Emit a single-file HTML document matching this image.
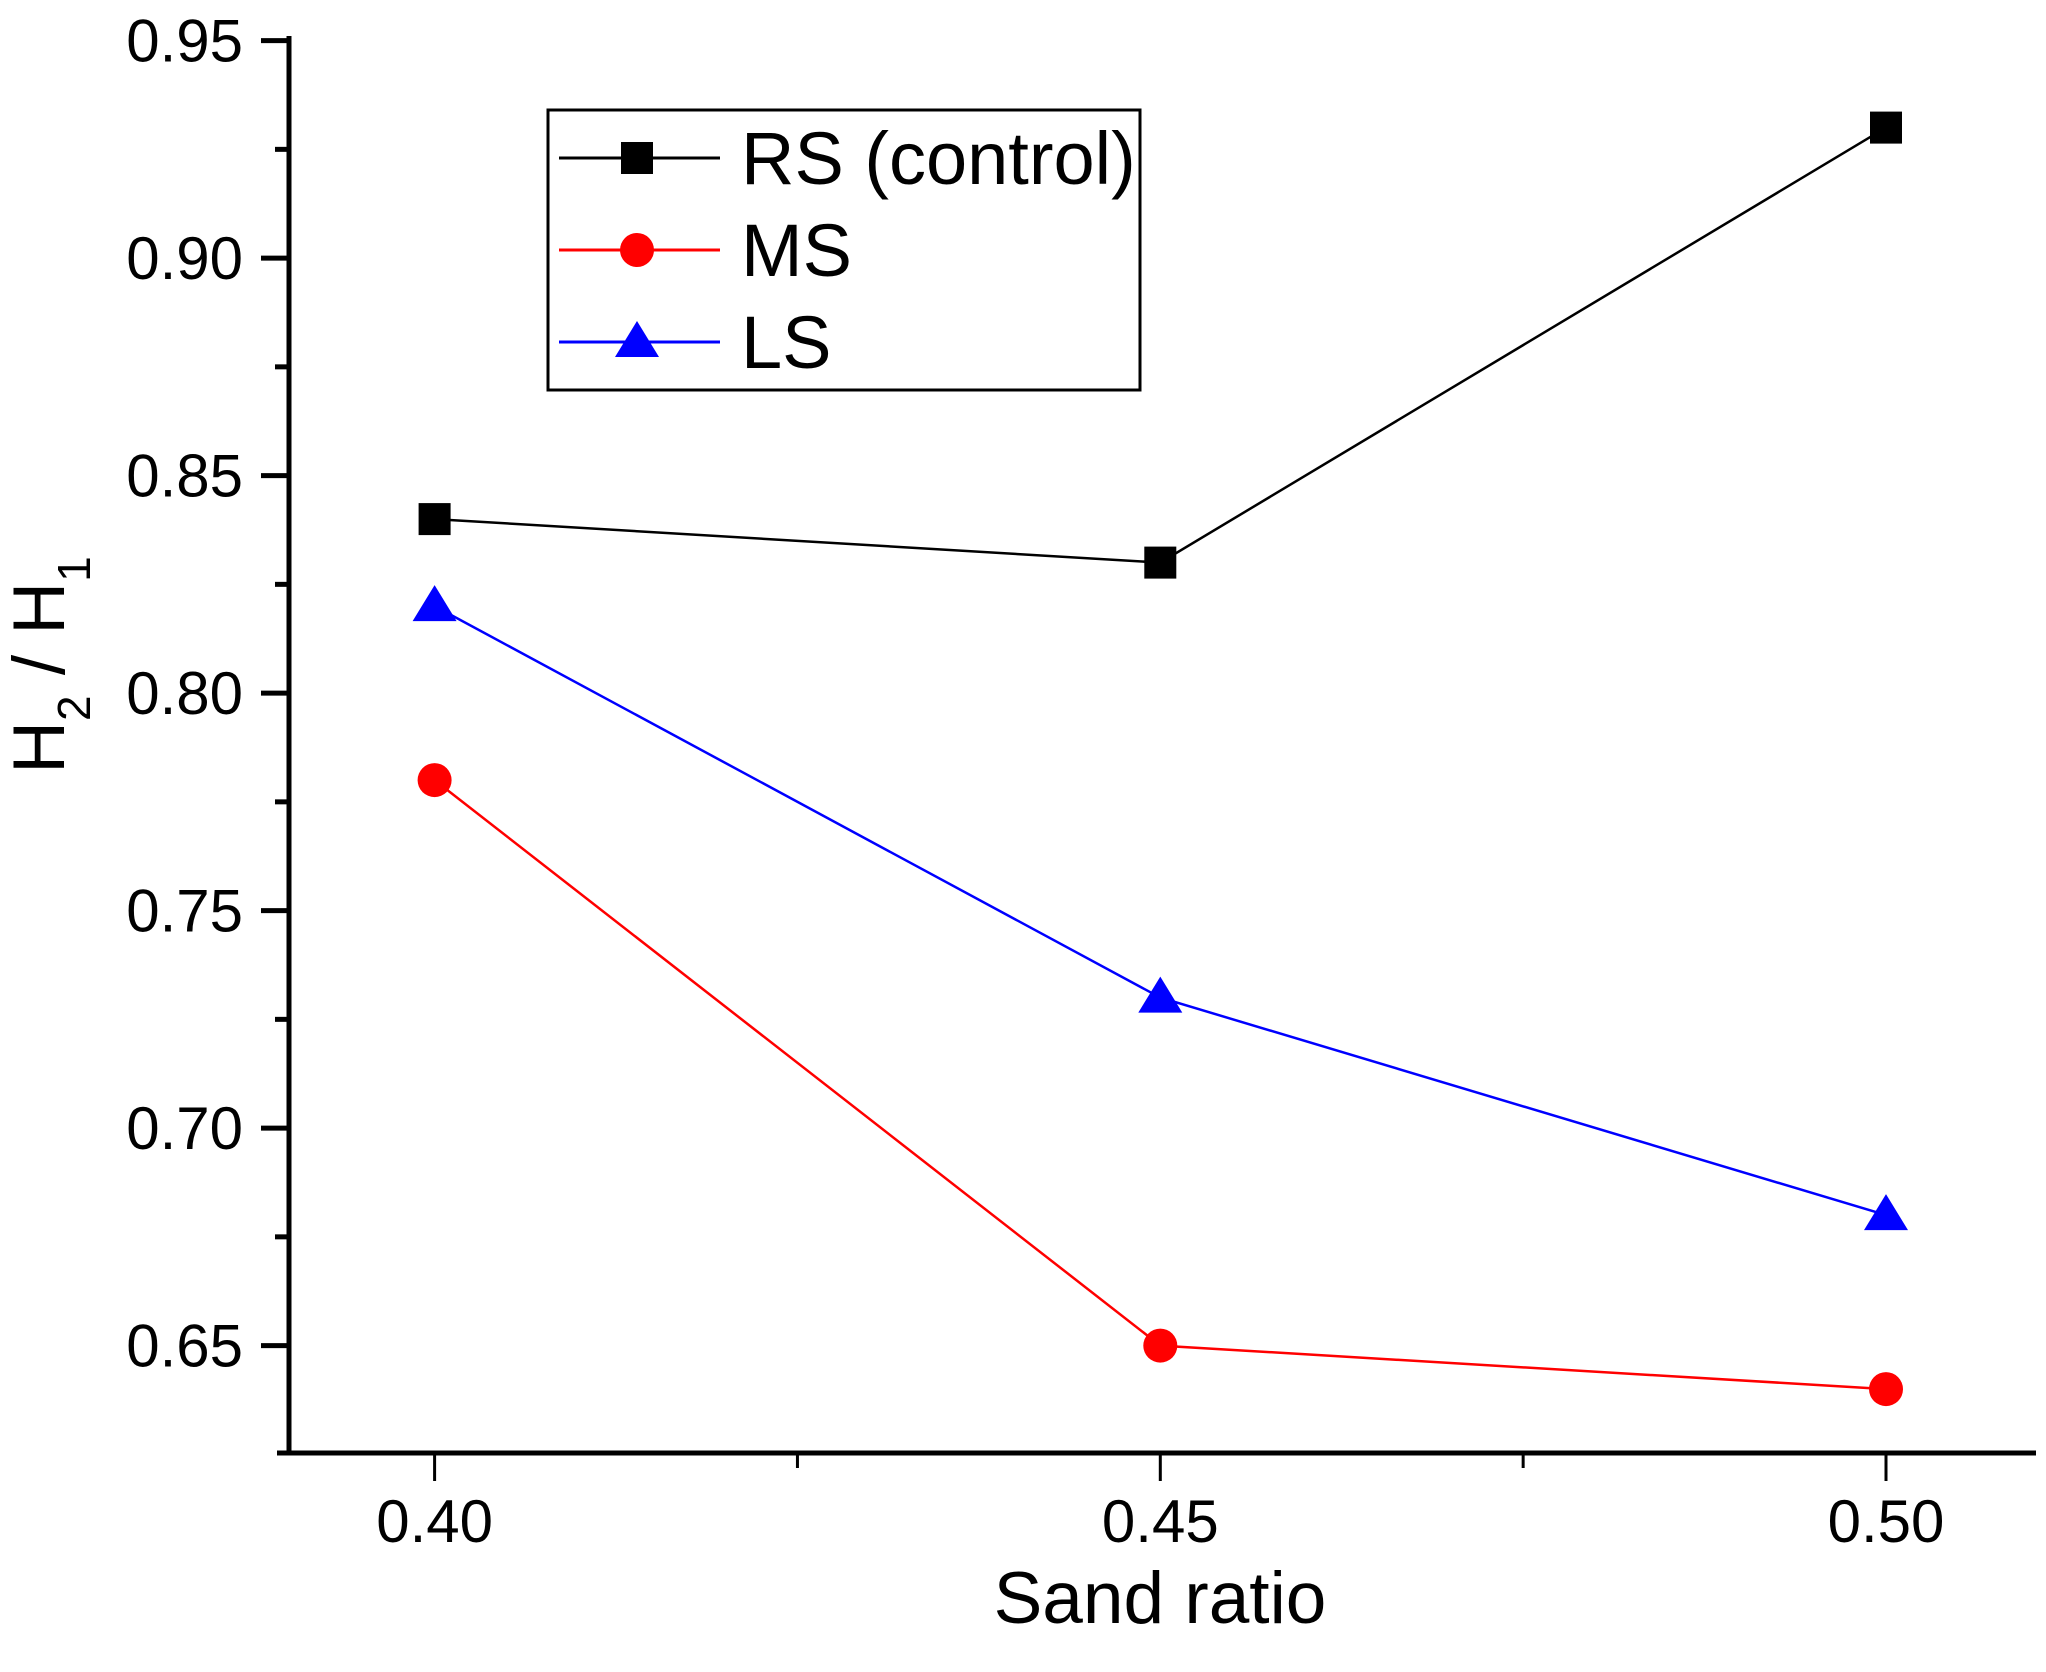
<!DOCTYPE html>
<html><head><meta charset="utf-8"><style>
html,body{margin:0;padding:0;background:#fff;}
svg{display:block;font-family:"Liberation Sans",Arial,sans-serif;}
</style></head><body>
<svg id="chart" width="2046" height="1672" viewBox="0 0 2046 1672"></svg>
<script>
const categories = [0.40, 0.45, 0.50];
const rsValues = [0.84, 0.83, 0.93];
const msValues = [0.78, 0.65, 0.64];
const lsValues = [0.82, 0.73, 0.68];
const yTicks = [0.65, 0.70, 0.75, 0.80, 0.85, 0.90, 0.95];
const yTickLabels = ["0.65","0.70","0.75","0.80","0.85","0.90","0.95"];
const xTicks = [0.40, 0.45, 0.50];
const xTickLabels = ["0.40","0.45","0.50"];
const xMinor = [0.425, 0.475];

const NS = "http://www.w3.org/2000/svg";
const svg = document.getElementById("chart");
const axL = 289, axB = 1453, axR = 2036;
function xs(v){ return 434.6 + (v - 0.40) / 0.10 * (1886 - 434.6); }
function ys(v){ return 1345.6 - (v - 0.65) / 0.30 * (1345.6 - 40.6); }
function mk(tag, attrs, parent){
  const e = document.createElementNS(NS, tag);
  for (const k in attrs) e.setAttribute(k, attrs[k]);
  (parent || svg).appendChild(e);
  return e;
}
const yAxis = mk("line",{x1:axL,y1:36,x2:axL,y2:axB+2,stroke:"#000","stroke-width":5});


const xAxis = mk("line",{x1:axL-12,y1:axB,x2:axR,y2:axB,stroke:"#000","stroke-width":5});


yTicks.forEach((t,i)=>{
  const y = ys(t);
  const tk = mk("line",{x1:axL-28,y1:y,x2:axL,y2:y,stroke:"#000","stroke-width":5});
  
  
  const lb = mk("text",{x:243,y:y+21,"text-anchor":"end","font-size":60});
  lb.textContent = yTickLabels[i];
  
  
  if (i < yTicks.length-1){
    const ym = ys(t + 0.025);
    const mt = mk("line",{x1:axL-14,y1:ym,x2:axL,y2:ym,stroke:"#000","stroke-width":5});
    
    
  }
});
xTicks.forEach((t,i)=>{
  const x = xs(t);
  const tk = mk("line",{x1:x,y1:axB,x2:x,y2:axB+28,stroke:"#000","stroke-width":3});
  
  
  const lb = mk("text",{x:x,y:1542,"text-anchor":"middle","font-size":60});
  lb.textContent = xTickLabels[i];
  
  
});
xMinor.forEach(t=>{
  const x = xs(t);
  const mt = mk("line",{x1:x,y1:axB,x2:x,y2:axB+15,stroke:"#000","stroke-width":3});
  
  
});
const xt = mk("text",{x:1160,y:1623,"text-anchor":"middle","font-size":73});
xt.textContent = "Sand ratio";


const yt = mk("text",{transform:"translate(64,665) rotate(-90)","text-anchor":"middle","font-size":73});
yt.innerHTML = 'H<tspan baseline-shift="sub" font-size="46">2</tspan> / H<tspan baseline-shift="sub" font-size="46">1</tspan>';



function marker(type, x, y, color, parent){
  let m;
  if (type==="square") m = mk("rect",{x:x-16,y:y-16,width:32,height:32,fill:color},parent);
  else if (type==="circle") m = mk("circle",{cx:x,cy:y,r:17,fill:color},parent);
  else m = mk("polygon",{points:`${x},${y-21} ${x-22},${y+15} ${x+22},${y+15}`,fill:color},parent);
  return m;
}
const series = [
  {name:"rs", vals:rsValues, color:"#000", type:"square", label:"RS (control)"},
  {name:"ms", vals:msValues, color:"#ff0000", type:"circle", label:"MS"},
  {name:"ls", vals:lsValues, color:"#0000ff", type:"triangle", label:"LS"}
];
series.forEach(s=>{
  const g = mk("g",{});
  
  
  const pts = s.vals.map((v,i)=>xs(categories[i])+","+ys(v)).join(" ");
  const pl = mk("polyline",{points:pts,fill:"none",stroke:s.color,"stroke-width":2.5},g);
  
  
  s.vals.forEach((v,i)=>{
    const m = marker(s.type, xs(categories[i]), ys(v), s.color, g);
    
    
  });
});
const lg = mk("g",{});


mk("rect",{x:548,y:110,width:592,height:280,fill:"#fff",stroke:"#000","stroke-width":3},lg);
series.forEach((s,i)=>{
  const y = 158 + i*92;
  const e = mk("g",{},lg);
  
  
  mk("line",{x1:559,y1:y,x2:720,y2:y,stroke:s.color,"stroke-width":3},e);
  marker(s.type, 637, y, s.color, e);
  const t = mk("text",{x:741,y:y+26,"font-size":74},e);
  t.textContent = s.label;
});
</script>
</body></html>
